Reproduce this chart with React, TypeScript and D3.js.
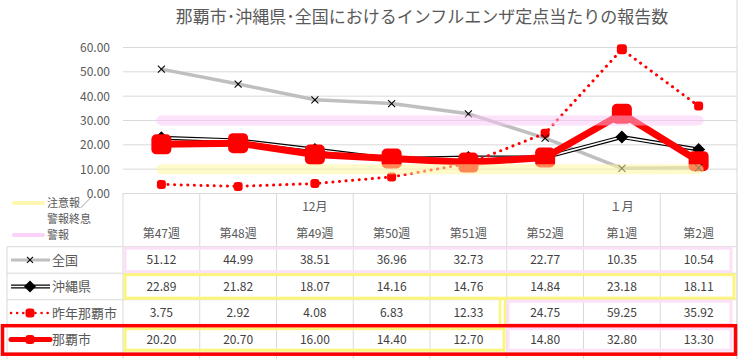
import React from 'react';
import * as d3 from 'd3';

// data
const weeks = ['第47週', '第48週', '第49週', '第50週', '第51週', '第52週', '第1週', '第2週'];
const months = ['', '', '12月', '', '', '', '１月', ''];
const zenkoku = [51.12, 44.99, 38.51, 36.96, 32.73, 22.77, 10.35, 10.54];
const okinawa = [22.89, 21.82, 18.07, 14.16, 14.76, 14.84, 23.18, 18.11];
const lastYearNaha = [3.75, 2.92, 4.08, 6.83, 12.33, 24.75, 59.25, 35.92];
const naha = [20.2, 20.7, 16.0, 14.4, 12.7, 14.8, 32.8, 13.3];
const yTicks = [0, 10, 20, 30, 40, 50, 60];
const bandLevels = [10, 30]; // 注意報 / 警報終息
const seriesNames = ['全国', '沖縄県', '昨年那覇市', '那覇市'];

const W = 742;
const H = 359;
const plotLeft = 123;
const plotRight = 737;
const plotTop = 47.5;
const plotBottom = 193.5;
const rowTop = 246.7;
const rowH = 26.5;

const FONT = '"Noto Sans CJK JP", "Noto Sans", sans-serif';
const GRID = '#d9d9d9';
const TXT = '#595959';
const RED = '#ff0000';
const YELLOW_BAND = '#fff59d';
const PINK_BAND = '#f9c6f5';
const YELLOW_BOX = '#fbf57c';
const PINK_BOX = '#fbe0f8';

const x = d3.scaleBand<string>().domain(weeks).range([plotLeft, plotRight]);
const cx = (i: number) => (x(weeks[i]) as number) + x.bandwidth() / 2;
const y = d3.scaleLinear().domain([0, 60]).range([plotBottom, plotTop]);
const fmt = d3.format('.2f');

const line = d3
  .line<number>()
  .x((_, i) => cx(i))
  .y((d) => y(d));

const RoundSquare = ({ px, py, s, r }: { px: number; py: number; s: number; r: number }) => (
  <rect x={px - s / 2} y={py - s / 2} width={s} height={s} rx={r} fill={RED} />
);

const Cross = ({ px, py, s }: { px: number; py: number; s: number }) => (
  <g stroke="#000" strokeWidth={1.1}>
    <line x1={px - s / 2} y1={py - s / 2} x2={px + s / 2} y2={py + s / 2} />
    <line x1={px - s / 2} y1={py + s / 2} x2={px + s / 2} y2={py - s / 2} />
  </g>
);

const Diamond = ({ px, py, s }: { px: number; py: number; s: number }) => (
  <path d={`M${px},${py - s / 2}L${px + s / 2},${py}L${px},${py + s / 2}L${px - s / 2},${py}Z`} fill="#000" />
);

const App = () => {
  const rowsY = seriesNames.map((_, i) => rowTop + rowH * i);
  const allSeries = [zenkoku, okinawa, lastYearNaha, naha];

  return (
    <svg
      width={W}
      height={H}
      style={{ position: 'absolute', left: 0, top: 0, background: '#fff' }}
      fontFamily={FONT}
    >
      <rect width={W} height={H} fill="#fff" />
      {/* title */}
      <text x={422} y={23} textAnchor="middle" fontSize={17} fill={TXT}>
        那覇市･沖縄県･全国におけるインフルエンザ定点当たりの報告数
      </text>

      {/* grid + y axis */}
      {yTicks.map((t) => (
        <g key={t}>
          <line x1={plotLeft} x2={plotRight} y1={y(t)} y2={y(t)} stroke={GRID} />
          <text x={110} y={y(t) + 4.5} textAnchor="end" fontSize={12} fill={TXT}>
            {t.toFixed(2)}
          </text>
        </g>
      ))}

      {/* table grid */}
      {d3.range(weeks.length + 1).map((k) => {
        const xx = plotLeft + x.bandwidth() * k;
        return <line key={k} x1={xx} x2={xx} y1={plotBottom} y2={H} stroke={GRID} />;
      })}
      <line x1={7} x2={7} y1={rowTop} y2={H} stroke={GRID} />
      <line x1={plotRight} x2={plotRight} y1={0} y2={H} stroke={GRID} />
      {d3.range(seriesNames.length + 1).map((k) => (
        <line key={k} x1={7} x2={plotRight} y1={rowTop + rowH * k} y2={rowTop + rowH * k} stroke={GRID} />
      ))}

      {/* headers */}
      {weeks.map((w, i) => (
        <g key={w}>
          {months[i] && (
            <text x={cx(i)} y={211} textAnchor="middle" fontSize={12} fill={TXT}>
              {months[i]}
            </text>
          )}
          <text x={cx(i)} y={238} textAnchor="middle" fontSize={12} fill={TXT}>
            {w}
          </text>
        </g>
      ))}

      {/* header legend for bands */}
      <line x1={14} x2={43} y1={203} y2={203} stroke={YELLOW_BAND} strokeOpacity={0.8} strokeWidth={4} strokeLinecap="round" />
      <text x={47} y={207} fontSize={11} fill={TXT}>注意報／</text>
      <text x={47} y={223} fontSize={11} fill={TXT}>警報終息</text>
      <text x={47} y={239} fontSize={11} fill={TXT}>警報</text>
      <line x1={14} x2={43} y1={235} y2={235} stroke={PINK_BAND} strokeOpacity={0.8} strokeWidth={4} strokeLinecap="round" />

      {/* highlight boxes in table */}
      <rect x={125} y={rowsY[0] + 1.5} width={606} height={rowH - 3} fill="none" stroke={PINK_BOX} strokeWidth={3} />
      <rect x={125} y={rowsY[1] + 1.5} width={609} height={rowH - 3} fill="none" stroke={YELLOW_BOX} strokeWidth={3} />
      <rect x={500} y={rowsY[2] - 1} width={5} height={rowH + 1} fill="none" stroke={YELLOW_BOX} strokeWidth={2.5} />
      <rect x={508} y={rowsY[2] + 1.5} width={223} height={rowH - 3} fill="none" stroke={PINK_BOX} strokeWidth={3} />
      <rect x={125} y={rowsY[3] + 2.5} width={379} height={rowH - 5} fill="none" stroke={YELLOW_BOX} strokeWidth={3} />
      <rect x={508} y={rowsY[3] + 2.5} width={223} height={rowH - 5} fill="none" stroke={PINK_BOX} strokeWidth={3} />
      <rect x={2.5} y={rowsY[3] - 0.5} width={733} height={rowH + 2} fill="none" stroke={RED} strokeWidth={3.5} />

      {/* table values */}
      {allSeries.map((s, r) =>
        s.map((v, i) => (
          <text key={`${r}-${i}`} x={cx(i)} y={rowsY[r] + rowH / 2 + 4.5} textAnchor="middle" fontSize={12} fill="#404040">
            {fmt(v)}
          </text>
        ))
      )}

      {/* table legend keys */}
      {seriesNames.map((n, r) => (
        <text key={n} x={52} y={rowsY[r] + rowH / 2 + 5} fontSize={13} fill={TXT}>
          {n}
        </text>
      ))}
      {(() => {
        const my = (r: number) => rowsY[r] + rowH / 2;
        return (
          <g>
            <line x1={11} x2={50} y1={my(0)} y2={my(0)} stroke="#bfbfbf" strokeWidth={3} />
            <Cross px={30} py={my(0)} s={6} />
            <line x1={11} x2={50} y1={my(1)} y2={my(1)} stroke="#000" strokeWidth={4} />
            <line x1={11} x2={50} y1={my(1)} y2={my(1)} stroke="#fff" strokeWidth={1.6} />
            <Diamond px={30} py={my(1)} s={12} />
            <line x1={11} x2={50} y1={my(2)} y2={my(2)} stroke={RED} strokeWidth={2.5} strokeDasharray="0.1 6" strokeLinecap="round" />
            <RoundSquare px={30} py={my(2)} s={9} r={3} />
            <line x1={11} x2={50} y1={my(3)} y2={my(3)} stroke={RED} strokeWidth={5} strokeLinecap="round" />
            <RoundSquare px={30} py={my(3)} s={9} r={3} />
          </g>
        );
      })()}

      {/* series lines */}
      <path d={line(zenkoku) as string} fill="none" stroke="#bfbfbf" strokeWidth={3.5} strokeLinejoin="round" />
      <path d={line(okinawa) as string} fill="none" stroke="#000" strokeWidth={4} strokeLinejoin="round" />
      <path d={line(okinawa) as string} fill="none" stroke="#fff" strokeWidth={1.6} strokeLinejoin="round" />
      <path
        d={line(lastYearNaha) as string}
        fill="none"
        stroke={RED}
        strokeWidth={3}
        strokeDasharray="0.1 6.5"
        strokeLinecap="round"
      />
      <path d={line(naha) as string} fill="none" stroke={RED} strokeWidth={7} strokeLinejoin="round" />

      {/* markers */}
      {okinawa.map((v, i) => (
        <Diamond key={`o${i}`} px={cx(i)} py={y(v)} s={13} />
      ))}
      {lastYearNaha.map((v, i) => (
        <RoundSquare key={`l${i}`} px={cx(i)} py={y(v)} s={i === 6 ? 10 : 9} r={3} />
      ))}
      {naha.map((v, i) => (
        <RoundSquare key={`n${i}`} px={cx(i)} py={y(v)} s={20} r={5} />
      ))}
      {zenkoku.map((v, i) => (
        <Cross key={`z${i}`} px={cx(i)} py={y(v)} s={7} />
      ))}

      {/* alert bands, drawn on top with transparency */}
      <line
        x1={cx(0)}
        x2={cx(weeks.length - 1)}
        y1={y(bandLevels[0])}
        y2={y(bandLevels[0])}
        stroke={YELLOW_BAND}
        strokeOpacity={0.55}
        strokeWidth={10}
        strokeLinecap="round"
      />
      <line
        x1={cx(0)}
        x2={cx(weeks.length - 1)}
        y1={y(bandLevels[1])}
        y2={y(bandLevels[1])}
        stroke={PINK_BAND}
        strokeOpacity={0.5}
        strokeWidth={10}
        strokeLinecap="round"
      />
    </svg>
  );
};

export default App;
